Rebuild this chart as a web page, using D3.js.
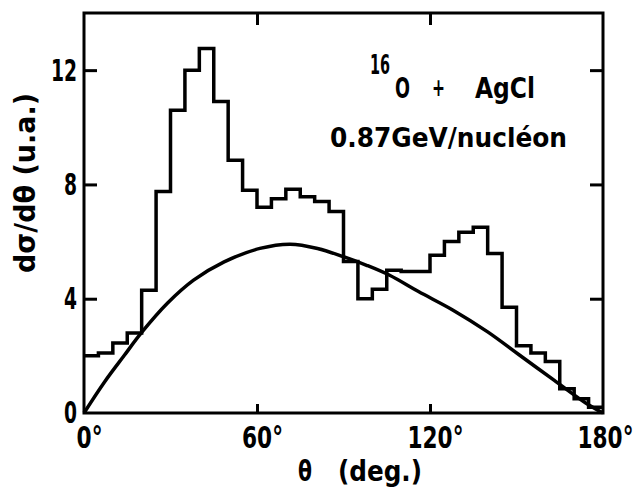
<!DOCTYPE html>
<html lang="en">
<head>
    <meta charset="UTF-8">
    <title>Angular distribution 16O + AgCl</title>
    <script src="https://d3js.org/d3.v7.min.js"></script>
    <style>
        body { margin: 0; background: #fff; }
        text { font-family: "DejaVu Sans Condensed", "DejaVu Sans", sans-serif; font-weight: bold; fill: #000; }
    </style>
</head>
<body>
    <div id="chart"></div>

    <script>
        // histogram: bin start (deg) and height, 5 deg bins
        const binStart = [0, 5, 10, 15, 20, 25, 30, 35, 40, 45, 50, 55, 60, 65, 70, 75, 80, 85,
                          90, 95, 100, 105, 110, 115, 120, 125, 130, 135, 140, 145, 150, 155, 160, 165, 170, 175];
        const binValue = [2.0, 2.1, 2.45, 2.8, 4.3, 7.75, 10.6, 12.0, 12.76, 10.9, 8.85, 7.8, 7.2, 7.5, 7.83, 7.57, 7.4, 7.05,
                          5.3, 4.0, 4.33, 5.0, 4.95, 4.95, 5.52, 6.0, 6.33, 6.5, 5.58, 3.7, 2.35, 2.1, 1.8, 0.85, 0.5, 0.2];
        const binEnd = 180;

        // smooth curve
        const curveDeg = [0, 7, 14, 20, 29, 38, 48.6, 61, 71.5, 81, 90, 98, 106, 116, 128, 140, 151, 163, 174, 180];
        const curveVal = [0, 1.07, 2.02, 2.82, 3.85, 4.65, 5.29, 5.76, 5.91, 5.76, 5.47, 5.17, 4.82, 4.25, 3.6, 2.84, 2.03, 1.15, 0.35, 0];

        const xTicks = [0, 60, 120, 180];
        const yTicks = [0, 4, 8, 12];

        const width = 638, height = 487;
        const margin = {left: 84, right: 35, top: 13, bottom: 74};

        const svg = d3.select('#chart')
            .append('svg')
            .attr('width', width)
            .attr('height', height);

        const x = d3.scaleLinear().domain([0, 180]).range([margin.left, width - margin.right]);
        const y = d3.scaleLinear().domain([0, 14]).range([height - margin.bottom, margin.top]);

        // squeeze text to the narrow lettering of the original
        const squeeze = (sel, w) => sel.attr('textLength', w).attr('lengthAdjust', 'spacingAndGlyphs');

        // histogram as a step line
        const histPts = binStart.map((d, i) => [d, binValue[i]]);
        histPts.push([binEnd, binValue[binValue.length - 1]]);
        const stepLine = d3.line()
            .x(d => x(d[0]))
            .y(d => y(d[1]))
            .curve(d3.curveStepAfter);

        svg.append('path')
            .attr('d', stepLine(histPts))
            .attr('fill', 'none')
            .attr('stroke', '#000')
            .attr('stroke-width', 3.5);

        // smooth curve
        const curvePts = curveDeg.map((d, i) => [d, curveVal[i]]);
        const smooth = d3.line()
            .x(d => x(d[0]))
            .y(d => y(d[1]))
            .curve(d3.curveCatmullRom.alpha(0.5));

        svg.append('path')
            .attr('d', smooth(curvePts))
            .attr('fill', 'none')
            .attr('stroke', '#000')
            .attr('stroke-width', 3.5);

        // frame
        svg.append('rect')
            .attr('x', x(0))
            .attr('y', y(14))
            .attr('width', x(180) - x(0))
            .attr('height', y(0) - y(14))
            .attr('fill', 'none')
            .attr('stroke', '#000')
            .attr('stroke-width', 3);

        // axes, ticks pointing inward
        const fmtDeg = d => d + '°';
        const gx = svg.append('g')
            .attr('transform', `translate(0,${y(0)})`)
            .call(d3.axisBottom(x).tickValues(xTicks).tickSizeInner(-9).tickSizeOuter(0).tickPadding(14).tickFormat(fmtDeg));
        gx.selectAll('text').attr('dx', d => d === 180 ? 2 : 5)
            .each(function(d) { squeeze(d3.select(this), 15 * fmtDeg(d).length - 4); });

        svg.append('g')
            .attr('transform', `translate(0,${y(14)})`)
            .call(d3.axisTop(x).tickValues([60, 120]).tickSizeInner(-12).tickSizeOuter(0).tickFormat(''));

        const gy = svg.append('g')
            .attr('transform', `translate(${x(0)},0)`)
            .call(d3.axisLeft(y).tickValues(yTicks).tickSizeInner(-13).tickSizeOuter(0).tickPadding(7));
        gy.selectAll('text').attr('dy', '0.33em')
            .each(function(d) { squeeze(d3.select(this), 13 * String(d).length); });

        svg.append('g')
            .attr('transform', `translate(${x(180)},0)`)
            .call(d3.axisRight(y).tickValues([4, 8, 12]).tickSizeInner(-13).tickSizeOuter(0).tickFormat(''));

        svg.selectAll('.domain').remove();
        svg.selectAll('.tick line').attr('stroke', '#000').attr('stroke-width', 3);
        svg.selectAll('.tick text')
            .attr('font-family', null)
            .style('font-size', '30px');
        gy.selectAll('.tick').filter(d => d === 0).select('line').remove();
        gx.selectAll('.tick').filter(d => d === 0 || d === 180).select('line').remove();

        // axis titles
        svg.append('text')
            .attr('transform', 'translate(35,183) rotate(-90)')
            .attr('text-anchor', 'middle')
            .style('font-size', '29px')
            .text('dσ/dθ (u.a.)')
            .call(squeeze, 180);

        svg.append('text')
            .attr('x', 298).attr('y', 481)
            .style('font-size', '29px')
            .text('θ')
            .call(squeeze, 14);
        svg.append('text')
            .attr('x', 338).attr('y', 481)
            .style('font-size', '29px')
            .text('(deg.)')
            .call(squeeze, 84);

        // annotation
        svg.append('text').attr('x', 370).attr('y', 74)
            .style('font-size', '26px').text('16').call(squeeze, 20);
        svg.append('text').attr('x', 395).attr('y', 98)
            .style('font-size', '28px').text('O').call(squeeze, 15);
        svg.append('text').attr('x', 432).attr('y', 96)
            .style('font-size', '24px').text('+').call(squeeze, 13);
        svg.append('text').attr('x', 475).attr('y', 98)
            .style('font-size', '28px').text('AgCl').call(squeeze, 60);

        svg.append('text')
            .attr('x', 330)
            .attr('y', 147)
            .style('font-size', '27px')
            .text('0.87GeV/nucléon')
            .call(squeeze, 237);
    </script>
</body>
</html>
